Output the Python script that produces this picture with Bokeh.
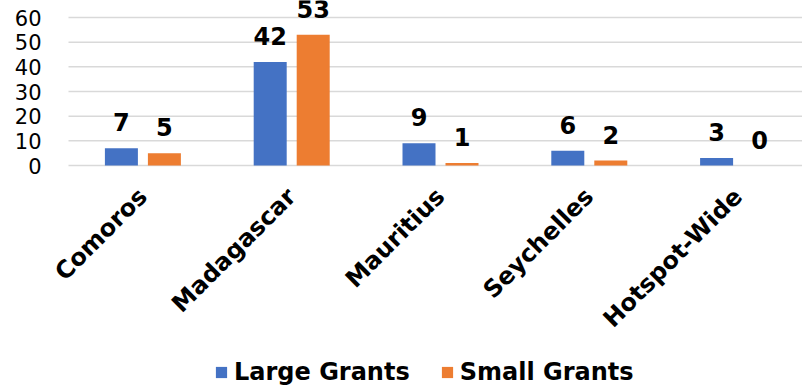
import math
from bokeh.plotting import figure
from bokeh.models import ColumnDataSource, LabelSet, Legend, LegendItem, FixedTicker, Range1d
from bokeh.transform import dodge
from bokeh.core.properties import value
from bokeh.embed import file_html
from bokeh.resources import INLINE

categories = ["Comoros", "Madagascar", "Mauritius", "Seychelles", "Hotspot-Wide"]
large_grants = [7, 42, 9, 6, 3]
small_grants = [5, 53, 1, 2, 0]
y_ticks = [0, 10, 20, 30, 40, 50, 60]

BLUE = "#4472C4"
ORANGE = "#ED7D31"
GRID = "#d9d9d9"
FONT = "DejaVu Sans"

# layout constants (screen px)
CAT_W = 148.8        # width of one category slot
PX_PER_UNIT = 148 / 60.0
AXIS_Y = 165         # screen y of the value 0
PLOT_LEFT = 68       # where the gridlines / first category start
FRAME_LEFT = 47      # frame starts a bit further left so rotated labels are not cut
W, H = 802, 388

x_start = -(PLOT_LEFT - FRAME_LEFT) / CAT_W
x_end = (W - PLOT_LEFT) / CAT_W

src = ColumnDataSource(dict(
    pos=[i + 0.5 for i in range(len(categories))],
    cat=categories,
    large=large_grants,
    small=small_grants,
    large_lbl=[str(v) for v in large_grants],
    small_lbl=[str(v) for v in small_grants],
    zero=[0] * len(categories),
))

p = figure(width=W, height=H, output_backend="svg", toolbar_location=None,
           x_range=Range1d(x_start, x_end),
           y_range=Range1d(-(H - AXIS_Y) / PX_PER_UNIT, AXIS_Y / PX_PER_UNIT),
           min_border_left=FRAME_LEFT, min_border_right=0, min_border_top=0,
           min_border_bottom=0)
p.outline_line_color = None
p.background_fill_color = "white"
p.xaxis.visible = False
p.xgrid.grid_line_color = None
p.ygrid.grid_line_color = None

# horizontal gridlines at the value ticks, starting where the plot area starts
p.segment(x0=[0] * len(y_ticks), x1=[x_end] * len(y_ticks), y0=y_ticks, y1=y_ticks,
          line_color=GRID, line_width=1.5)

off = 21.5 / CAT_W
w = 33 / CAT_W
r1 = p.vbar(x=dodge("pos", -off), top="large", width=w,
            source=src, fill_color=BLUE, line_color=None)
r2 = p.vbar(x=dodge("pos", off), top="small", width=w,
            source=src, fill_color=ORANGE, line_color=None)

for col, lbl, o in (("large", "large_lbl", -off), ("small", "small_lbl", off)):
    ls = LabelSet(x=dodge("pos", o), y=col, text=lbl, source=src,
                  text_align="center", text_baseline="bottom", y_offset=17,
                  text_font=value(FONT), text_font_style="bold",
                  text_font_size="24px", text_color="black")
    p.add_layout(ls)

# category labels, rotated 45 degrees, ending under each category centre
cat_labels = LabelSet(x="pos", y="zero", text="cat", source=src,
                      angle=math.pi / 4, text_align="right", text_baseline="middle",
                      y_offset=-27, text_font=value(FONT), text_font_style="bold",
                      text_font_size="24px", text_color="black")
p.add_layout(cat_labels)

p.yaxis.ticker = FixedTicker(ticks=y_ticks)
p.yaxis.axis_line_color = None
p.yaxis.major_tick_line_color = None
p.yaxis.minor_tick_line_color = None
p.yaxis.major_label_text_font = FONT
p.yaxis.major_label_text_font_size = "21px"
p.yaxis.major_label_text_color = "black"
p.yaxis.major_label_standoff = 0

legend = Legend(items=[LegendItem(label="Large Grants", renderers=[r1]),
                       LegendItem(label="Small Grants", renderers=[r2])],
                orientation="horizontal", location=(214 - FRAME_LEFT, 2),
                glyph_width=14, glyph_height=14, label_standoff=6, spacing=30,
                padding=0, margin=0, border_line_color=None,
                background_fill_alpha=0,
                label_text_font=FONT, label_text_font_style="bold",
                label_text_font_size="24px", label_text_color="black")
p.add_layout(legend)

open("out.html", "w").write(file_html(p, INLINE))
